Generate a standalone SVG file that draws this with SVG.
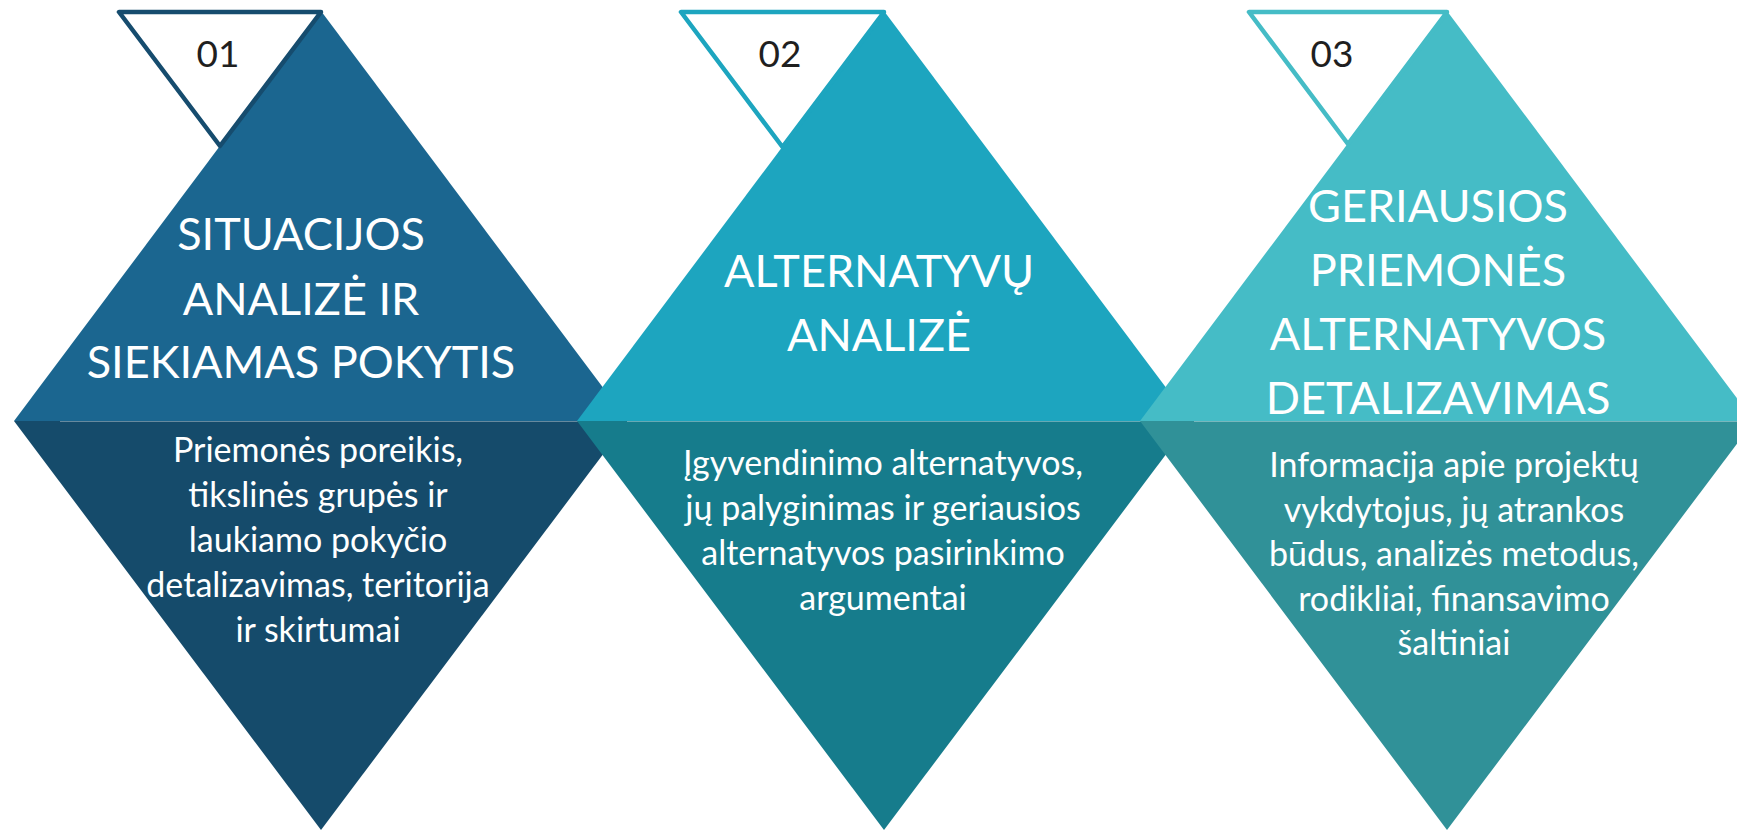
<svg xmlns="http://www.w3.org/2000/svg" width="1737" height="832" viewBox="0 0 1737 832">
<style>
.title{font-family:Lato,"Open Sans","Liberation Sans",sans-serif;font-size:45px;fill:#ffffff;text-anchor:middle}
.body{font-family:Lato,"Open Sans","Liberation Sans",sans-serif;font-size:34px;fill:#ffffff;text-anchor:middle}
.num{font-family:Lato,"Open Sans","Liberation Sans",sans-serif;font-size:37px;fill:#1f1f1f;text-anchor:middle}
.tag{fill:#ffffff;stroke-width:4.5;stroke-linejoin:round}
.sep{stroke:#ffffff;stroke-opacity:0.35;stroke-width:1.2}
</style>
<rect width="1737" height="832" fill="#ffffff"/>
<g id="node-1">
<polygon points="321,11 14,421 628,421" fill="#1b6690"/>
<polygon points="14,421 628,421 321,830" fill="#154b6b"/>
<line class="sep" x1="60" y1="421.5" x2="628" y2="421.5"/>
<polygon class="tag" points="119,12 321,12 220,146" stroke="#164c6e"/>
<text class="num" x="218" y="67">01</text>
<text class="title" x="301" y="250">SITUACIJOS</text>
<text class="title" x="301" y="315">ANALIZĖ IR</text>
<text class="title" x="301" y="378">SIEKIAMAS POKYTIS</text>
<text class="body" x="318" y="462">Priemonės poreikis,</text>
<text class="body" x="318" y="507">tikslinės grupės ir</text>
<text class="body" x="318" y="552">laukiamo pokyčio</text>
<text class="body" x="318" y="597">detalizavimas, teritorija</text>
<text class="body" x="318" y="642">ir skirtumai</text>
</g>
<g id="node-2">
<polygon points="884,11 577,421 1191,421" fill="#1da5bf"/>
<polygon points="577,421 1191,421 884,830" fill="#167c8c"/>
<line class="sep" x1="627" y1="421.5" x2="1191" y2="421.5"/>
<polygon class="tag" points="681,12 884,12 782.5,147" stroke="#1da5bf"/>
<text class="num" x="780" y="67">02</text>
<text class="title" x="879" y="287">ALTERNATYVŲ</text>
<text class="title" x="879" y="351">ANALIZĖ</text>
<text class="body" x="883" y="475">Įgyvendinimo alternatyvos,</text>
<text class="body" x="883" y="520">jų palyginimas ir geriausios</text>
<text class="body" x="883" y="565">alternatyvos pasirinkimo</text>
<text class="body" x="883" y="610">argumentai</text>
</g>
<g id="node-3">
<polygon points="1447,11 1140,421 1754,421" fill="#45bcc6"/>
<polygon points="1140,421 1754,421 1447,830" fill="#309198"/>
<line class="sep" x1="1194" y1="421.5" x2="1737" y2="421.5"/>
<polygon class="tag" points="1249,12 1447,12 1348,144" stroke="#45bcc6"/>
<text class="num" x="1332" y="67">03</text>
<text class="title" x="1438" y="222">GERIAUSIOS</text>
<text class="title" x="1438" y="286">PRIEMONĖS</text>
<text class="title" x="1438" y="350">ALTERNATYVOS</text>
<text class="title" x="1438" y="414">DETALIZAVIMAS</text>
<text class="body" x="1454" y="477">Informacija apie projektų</text>
<text class="body" x="1454" y="522">vykdytojus, jų atrankos</text>
<text class="body" x="1454" y="566">būdus, analizės metodus,</text>
<text class="body" x="1454" y="611">rodikliai, finansavimo</text>
<text class="body" x="1454" y="655">šaltiniai</text>
</g>
<g id="connectors"></g>
</svg>
